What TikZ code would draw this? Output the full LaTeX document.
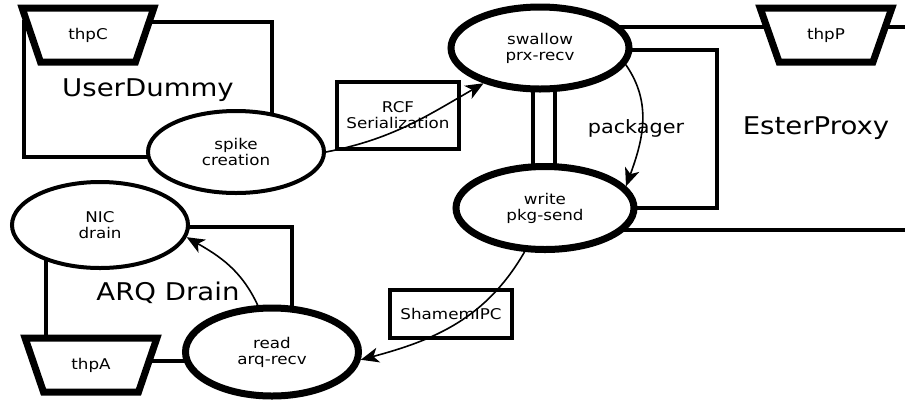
\documentclass[tikz,border=0pt]{standalone}
\usepackage{fontspec}
\setmainfont[FakeStretch=1.13]{DejaVu Sans}
\usetikzlibrary{shapes,arrows,arrows.meta,positioning,calc}

\begin{document}
\begin{tikzpicture}[x=0.5pt,y=-0.5pt,
						task/.style={ellipse,draw,fill=white,line width=2pt,minimum width=88pt,minimum height=41pt,inner sep=0pt,align=center,font=\fontsize{7.4}{8}\selectfont},
						hottask/.style={task,line width=3.5pt,minimum width=89pt},
						port/.style={trapezium,trapezium angle=62,shape border rotate=180,trapezium stretches=true,draw,fill=white,line width=3.5pt,minimum width=66pt,minimum height=27pt,inner sep=0pt,font=\fontsize{7.4}{8}\selectfont},
						channel/.style={rectangle,draw,fill=white,line width=2.2pt,minimum width=60.75pt,inner sep=0pt,align=center,font=\fontsize{7.4}{8}\selectfont},
						group/.style={line width=2pt},
						grouplabel/.style={font=\fontsize{12.2}{14}\selectfont},
						flow/.style={->,>={Stealth[length=9pt,width=7.5pt,inset=2.5pt]},line width=0.8pt}
					]
					\useasboundingbox (0,0) rectangle (905,403);

					% thread groups
					\draw[group] (24,22) rectangle (272,157);
					\draw[group] (46,227) rectangle (292,361);
					\draw[group] (533,50) rectangle (717,208);
					\coordinate (epTop) at (905,27);
					\coordinate (epBot) at (905,230);
					\draw[group] (epTop) -| (555,230) -- (epBot);

					\node[grouplabel] (userdummy) at (148,90) {UserDummy};
					\node[grouplabel] (arqdrain) at (168,293) {ARQ Drain};
					\node[grouplabel] (esterproxy) at (816,128) {EsterProxy};
					\node[font=\fontsize{9.2}{11}\selectfont] (packager) at (636,128) {packager};

					% ports
					\node[port] (thpC) at (88,35) {thpC};
					\node[port] (thpP) at (826,35) {thpP};
					\node[port] (thpA) at (91,365) {thpA};

					% channels
					\node[channel,minimum height=33.25pt] (rcf) at (398,115.5) {RCF\\Serialization};
					\node[channel,minimum height=23.75pt] (shm) at (451,314) {ShamemIPC};

					% tasks
					\node[task] (spike) at (236,152) {spike\\creation};
					\node[hottask] (swallow) at (540,48) {swallow\\prx-recv};
					\node[hottask,minimum height=41.5pt] (write) at (545,208) {write\\pkg-send};
					\node[task,minimum height=43pt] (nic) at (100,225) {NIC\\drain};
					\node[hottask,minimum width=86.5pt,minimum height=44pt] (read) at (272,352) {read\\arq-recv};

					\draw[flow] (spike.east) to[out=11,in=210] (swallow.212);
					\draw[flow] (swallow.-11) to[out=-55,in=70] (write.15);
					\draw[flow] (write.-115) to[out=-120,in=15] (read.-5);
					\draw[flow] (read.107) to[out=115,in=-30] (nic.-8);
				\end{tikzpicture}
\end{document}
